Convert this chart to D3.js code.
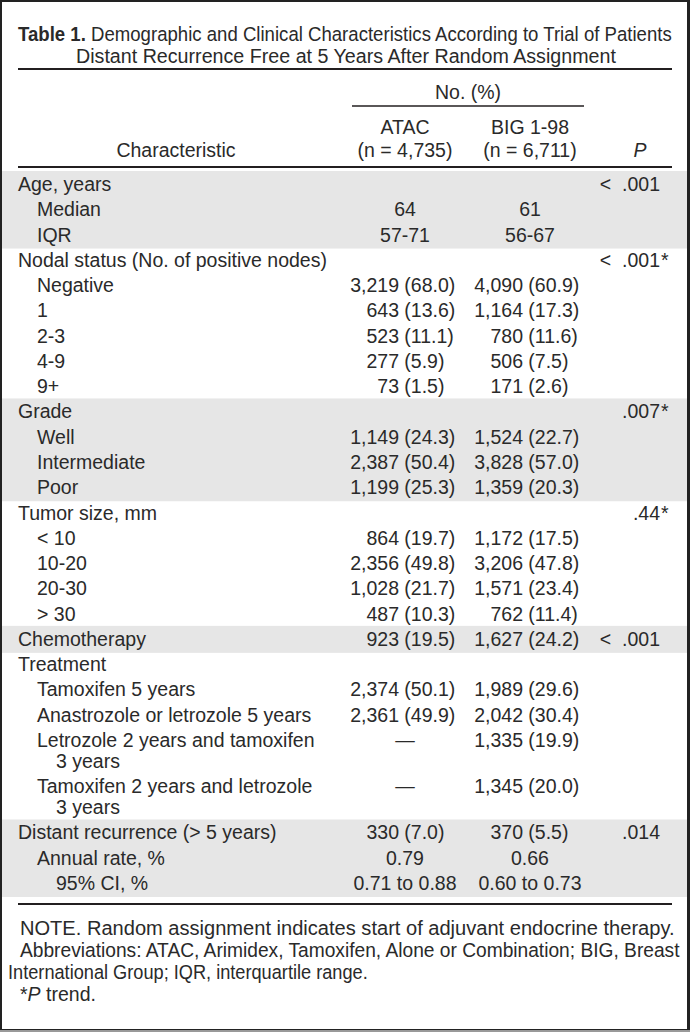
<!DOCTYPE html>
<html>
<head>
<meta charset="utf-8">
<script src="https://d3js.org/d3.v7.min.js"></script>
<style>
  body { margin: 0; background: #fff; }
  text { font-family: "Liberation Sans", Arial, sans-serif; fill: #2a2a2a; font-size: 19.5px; }
</style>
</head>
<body>
<div id="table-area"></div>
<script>

const titleLines = ["Demographic and Clinical Characteristics According to Trial of Patients",
                    "Distant Recurrence Free at 5 Years After Random Assignment"];
const groupHead = "No. (%)";
const trialNames = ["ATAC", "BIG 1-98"];
const trialSizes = ["(n = 4,735)", "(n = 6,711)"];

const labels = ["Age, years", "Median", "IQR",
  "Nodal status (No. of positive nodes)", "Negative", "1", "2-3", "4-9", "9+",
  "Grade", "Well", "Intermediate", "Poor",
  "Tumor size, mm", "< 10", "10-20", "20-30", "> 30",
  "Chemotherapy",
  "Treatment", "Tamoxifen 5 years", "Anastrozole or letrozole 5 years",
  "Letrozole 2 years and tamoxifen|3 years", "Tamoxifen 2 years and letrozole|3 years",
  "Distant recurrence (> 5 years)", "Annual rate, %", "95% CI, %"];
const levels = [0, 1, 1, 0, 1, 1, 1, 1, 1, 0, 1, 1, 1, 0, 1, 1, 1, 1, 0, 0, 1, 1, 1, 1, 0, 1, 2];

const atacVals = ["", "64", "57-71",
  "", "3,219 (68.0)", "643 (13.6)", "523 (11.1)", "277 (5.9)", "73 (1.5)",
  "", "1,149 (24.3)", "2,387 (50.4)", "1,199 (25.3)",
  "", "864 (19.7)", "2,356 (49.8)", "1,028 (21.7)", "487 (10.3)",
  "923 (19.5)",
  "", "2,374 (50.1)", "2,361 (49.9)", "—", "—",
  "330 (7.0)", "0.79", "0.71 to 0.88"];
const bigVals = ["", "61", "56-67",
  "", "4,090 (60.9)", "1,164 (17.3)", "780 (11.6)", "506 (7.5)", "171 (2.6)",
  "", "1,524 (22.7)", "3,828 (57.0)", "1,359 (20.3)",
  "", "1,172 (17.5)", "3,206 (47.8)", "1,571 (23.4)", "762 (11.4)",
  "1,627 (24.2)",
  "", "1,989 (29.6)", "2,042 (30.4)", "1,335 (19.9)", "1,345 (20.0)",
  "370 (5.5)", "0.66", "0.60 to 0.73"];
const pVals = ["< .001", "", "", "< .001*", "", "", "", "", "",
  ".007*", "", "", "", ".44*", "", "", "", "",
  "< .001", "", "", "", "", "", ".014", "", ""];

// first and last row of each shaded block
const shadedGroups = [[0, 2], [9, 12], [18, 18], [24, 26]];

const notes = ["NOTE. Random assignment indicates start of adjuvant endocrine therapy.",
  "Abbreviations: ATAC, Arimidex, Tamoxifen, Alone or Combination; BIG, Breast",
  "International Group; IQR, interquartile range."];

const w = 690;
const h = 1032;
const left = 18, right = 672;
const rowStep = 25.27, wrapStep = 21;

const svg = d3.select("#table-area").append("svg")
  .attr("width", w)
  .attr("height", h);

// frame
svg.append("rect").attr("width", w).attr("height", h).attr("fill", "#222");
svg.append("rect").attr("x", 2).attr("y", 2).attr("width", w - 5).attr("height", h - 5).attr("fill", "#fff");
svg.append("rect").attr("x", 0).attr("y", h - 2).attr("width", w).attr("height", 2).attr("fill", "#999");

// row positions (wrapped rows push the following ones down)
const rowScale = d3.scaleLinear().domain([0, labels.length - 1])
  .range([185, 185 + (labels.length - 1) * rowStep]);
let wraps = 0;
const rowY = labels.map((l, i) => {
  const y = rowScale(i) + wraps * wrapStep;
  wraps += l.split("|").length - 1;
  return y;
});

const xCol = d3.scaleOrdinal()
  .domain(["label", "atac", "big", "p", "atacSplit", "bigSplit"])
  .range([left, 405, 530, 660, 399, 523]);
const indent = d3.scaleLinear().domain([0, 1]).range([left, 37]);

// scale a text horizontally so it spans the given width (condensed face)
function fitWidth(sel, x, y, width) {
  const len = sel.node().getComputedTextLength();
  const k = width / len;
  sel.attr("transform", "translate(" + x + "," + y + ") scale(" + k + ",1)");
}

// shaded bands
svg.selectAll("rect.band")
  .data(shadedGroups)
  .enter()
  .append("rect")
  .attr("class", "band")
  .attr("x", 2)
  .attr("width", w - 5)
  .attr("y", d => rowY[d[0]] - 14)
  .attr("height", d => rowY[d[1]] + (labels[d[1]].split("|").length - 1) * wrapStep - rowY[d[0]] + 27)
  .attr("fill", "#e6e6e6");

// title
const t1 = svg.append("text")
  .call(t => {
    t.append("tspan").attr("font-weight", "bold").text("Table 1.");
    t.append("tspan").text("  " + titleLines[0]);
  });
fitWidth(t1, left, 41, right - left);
const t2 = svg.append("text").text(titleLines[1]);
fitWidth(t2, 76, 63, 540);

// rules
const rule = (y, x1, x2, sw) => svg.append("line")
  .attr("x1", x1).attr("x2", x2).attr("y1", y).attr("y2", y)
  .attr("stroke", "#231f20").attr("stroke-width", sw);
rule(69, left, right, 2.2);
rule(106, 352, 584, 1.6);
rule(167, left, right, 2.2);
rule(904, left, right, 2.2);

// column headers
svg.append("text").attr("x", 468).attr("y", 99).attr("text-anchor", "middle").text(groupHead);
svg.selectAll("text.trial")
  .data(trialNames)
  .enter()
  .append("text")
  .attr("class", "trial")
  .attr("x", (d, i) => xCol(i ? "big" : "atac"))
  .attr("y", 134)
  .attr("text-anchor", "middle")
  .text(d => d);
svg.selectAll("text.size")
  .data(trialSizes)
  .enter()
  .append("text")
  .attr("class", "size")
  .attr("x", (d, i) => xCol(i ? "big" : "atac"))
  .attr("y", 157)
  .attr("text-anchor", "middle")
  .text(d => d);
svg.append("text").attr("x", 176).attr("y", 157).attr("text-anchor", "middle").text("Characteristic");
svg.append("text").attr("x", 640).attr("y", 157).attr("text-anchor", "middle")
  .attr("font-style", "italic").text("P");

// row labels
labels.forEach((l, i) => {
  l.split("|").forEach((part, k) => {
    svg.append("text")
      .attr("x", indent(levels[i] + k))
      .attr("y", rowY[i] + 6 + k * wrapStep)
      .text(part);
  });
});

// value cells: counts right aligned, percentages left aligned after them
function drawValues(vals, col) {
  vals.forEach((v, i) => {
    if (!v) return;
    const m = v.match(/^(\S+) (\(.*\))$/);
    const y = rowY[i] + 6;
    if (m) {
      svg.append("text").attr("x", xCol(col + "Split")).attr("y", y)
        .attr("text-anchor", "end").text(m[1]);
      svg.append("text").attr("x", xCol(col + "Split") + 5.3).attr("y", y).text(m[2]);
    } else {
      svg.append("text").attr("x", xCol(col)).attr("y", y)
        .attr("text-anchor", "middle").text(v);
    }
  });
}
drawValues(atacVals, "atac");
drawValues(bigVals, "big");

pVals.forEach((v, i) => {
  if (!v) return;
  const y = rowY[i] + 6;
  svg.append("text").attr("x", xCol("p")).attr("y", y)
    .attr("text-anchor", "end").attr("xml:space", "preserve")
    .text(v.replace("*", "").replace("< ", "<  "));
  if (v.endsWith("*")) {
    svg.append("text").attr("x", xCol("p") + 1).attr("y", y).text("*");
  }
});

// footnotes
const noteX = [20, 20, 8];
const noteW = [655, 660, 360];
notes.forEach((n, i) => {
  const t = svg.append("text").attr("class", "note").text(n);
  fitWidth(t, noteX[i], 935 + i * 22, noteW[i]);
});
svg.append("text")
  .attr("x", 20)
  .attr("y", 1001)
  .call(t => {
    t.append("tspan").text("*");
    t.append("tspan").attr("font-style", "italic").text("P");
    t.append("tspan").text(" trend.");
  });

</script>
</body>
</html>
